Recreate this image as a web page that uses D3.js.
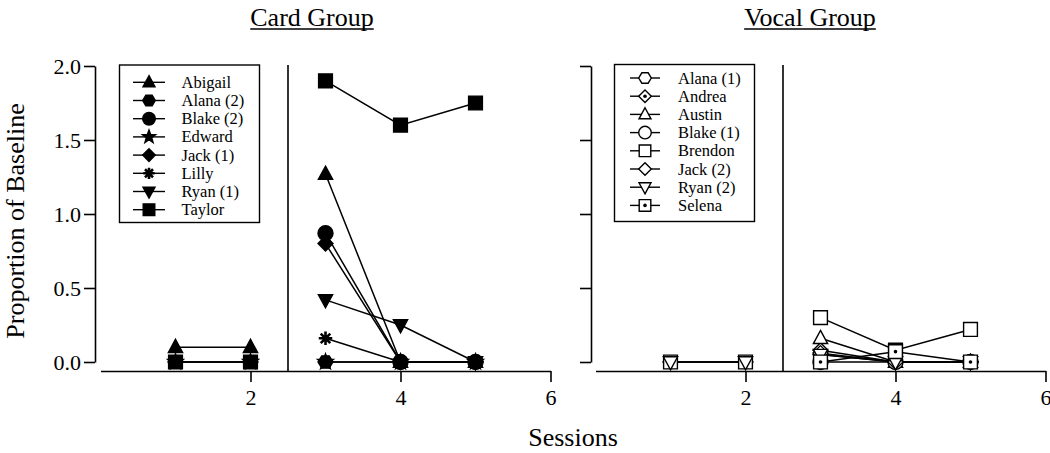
<!DOCTYPE html>
<html>
<head>
<meta charset="utf-8">
<script src="https://cdn.jsdelivr.net/npm/d3@7"></script>
<style>
  html, body { margin: 0; padding: 0; background: #fff; }
  svg { display: block; font-family: "Liberation Serif", "Times New Roman", serif; }
</style>
</head>
<body>
<script>
// ---------------- DATA ----------------
const sessions = [1, 2, 3, 4, 5];
const phaseChange = 2.5;
const xTicks = [2, 4, 6];
const yTicks = [0, 0.5, 1.0, 1.5, 2.0];
const panelTitles = ["Card Group", "Vocal Group"];
const yTitle = "Proportion of Baseline";
const xTitle = "Sessions";

// Card group
const cardNames = ["Abigail", "Alana (2)", "Blake (2)", "Edward", "Jack (1)", "Lilly", "Ryan (1)", "Taylor"];
const cardAbigail = [0.1, 0.1, 1.27, 0, 0];
const cardAlana2  = [0, 0, 0, 0, 0];
const cardBlake2  = [null, null, 0.87, 0, 0];
const cardEdward  = [0, 0, 0, 0, 0];
const cardJack1   = [null, null, 0.80, 0, 0];
const cardLilly   = [null, null, 0.16, 0, 0];
const cardRyan1   = [null, null, 0.42, 0.25, 0];
const cardTaylor  = [0, 0, 1.90, 1.60, 1.75];
const cardValues = [cardAbigail, cardAlana2, cardBlake2, cardEdward, cardJack1, cardLilly, cardRyan1, cardTaylor];

// Vocal group
const vocalNames = ["Alana (1)", "Andrea", "Austin", "Blake (1)", "Brendon", "Jack (2)", "Ryan (2)", "Selena"];
const vocalAlana1  = [0, 0, 0.05, 0, 0];
const vocalAndrea  = [null, null, 0.08, 0, 0];
const vocalAustin  = [null, null, 0.16, 0, 0];
const vocalBlake1  = [null, null, 0, 0, 0];
const vocalBrendon = [0, 0, 0.30, 0.08, 0.22];
const vocalJack2   = [null, null, 0.06, 0, 0];
const vocalRyan2   = [0, 0, 0.05, 0, 0];
const vocalSelena  = [null, null, 0, 0.07, 0];
const vocalValues = [vocalAlana1, vocalAndrea, vocalAustin, vocalBlake1, vocalBrendon, vocalJack2, vocalRyan2, vocalSelena];

// ---------------- STYLE ----------------
const cardShapes  = ["triUp", "hex", "circle", "star", "diamond", "asterisk", "triDown", "square"];
const vocalShapes = ["hex", "diamondDot", "triUp", "circle", "square", "diamond", "triDown", "squareDot"];
const FONT = '"Liberation Serif", "Times New Roman", serif';

function shapePath(type, r) {
  const p = [];
  switch (type) {
    case "triUp":
      return `M0,${-r * 1.05}L${r * 0.95},${r * 0.7}L${-r * 0.95},${r * 0.7}Z`;
    case "triDown":
      return `M0,${r * 1.05}L${r * 0.95},${-r * 0.7}L${-r * 0.95},${-r * 0.7}Z`;
    case "square":
    case "squareDot": {
      const s = r * 0.92;
      return `M${-s},${-s}H${s}V${s}H${-s}Z`;
    }
    case "circle":
      return `M${r},0A${r},${r} 0 1,1 ${-r},0A${r},${r} 0 1,1 ${r},0Z`;
    case "hex": {
      for (let i = 0; i < 6; i++) {
        const a = Math.PI / 3 * i;
        p.push([r * Math.cos(a), r * 0.95 * Math.sin(a)]);
      }
      return "M" + p.map(d => d.join(",")).join("L") + "Z";
    }
    case "diamond":
    case "diamondDot":
      return `M0,${-r}L${r},0L0,${r}L${-r},0Z`;
    case "star": {
      for (let i = 0; i < 10; i++) {
        const a = -Math.PI / 2 + Math.PI / 5 * i;
        const rr = i % 2 === 0 ? r * 1.1 : r * 0.45;
        p.push([rr * Math.cos(a), rr * Math.sin(a)]);
      }
      return "M" + p.map(d => d.join(",")).join("L") + "Z";
    }
    case "asterisk": {
      let s = "";
      for (let i = 0; i < 4; i++) {
        const a = Math.PI / 4 * i + Math.PI / 2;
        const dx = r * 0.9 * Math.cos(a), dy = r * 0.9 * Math.sin(a);
        s += `M${-dx},${-dy}L${dx},${dy}`;
      }
      return s;
    }
  }
  return "";
}

function drawMarker(g, type, filled, r, x, y) {
  const isAst = type === "asterisk";
  g.append("path")
    .attr("d", shapePath(type, r))
    .attr("transform", `translate(${x},${y})`)
    .attr("fill", isAst ? "none" : (filled ? "#000" : "#fff"))
    .attr("stroke", "#000")
    .attr("stroke-width", isAst ? 2.6 : 1.4)
    .attr("stroke-linejoin", "miter");
  if (type === "diamondDot" || type === "squareDot") {
    g.append("circle").attr("cx", x).attr("cy", y).attr("r", 1.8).attr("fill", "#000");
  }
}

// ---------------- LAYOUT ----------------
const W = 1050, H = 453;
const svg = d3.select("body").append("svg").attr("width", W).attr("height", H);

const panels = [
  { names: cardNames, values: cardValues, shapes: cardShapes, filled: true,
    xr: [100.5, 550.5], yAxisX: 95, labels: true, title: panelTitles[0], titleX: 312,
    legend: { x: 119.5, y: 65, w: 140, h: 157.5, sym: 149, lineL: 133, lineR: 165, text: 181.5, first: 82.3 } },
  { names: vocalNames, values: vocalValues, shapes: vocalShapes, filled: false,
    xr: [595.5, 1045.5], yAxisX: 591, labels: false, title: panelTitles[1], titleX: 810,
    legend: { x: 614.5, y: 64.5, w: 140, h: 157, sym: 645, lineL: 630, lineR: 660, text: 678, first: 78 } }
];

const y = d3.scaleLinear().domain([0, 2]).range([362, 66]);
const xAxisY = 371;

panels.forEach((P, pi) => {
  const x = d3.scaleLinear().domain([0, 6]).range(P.xr);
  const g = svg.append("g");

  // y axis
  const yAxis = d3.axisLeft(y).tickValues(yTicks).tickSize(11).tickSizeOuter(0).tickPadding(3)
    .tickFormat(P.labels ? d3.format(".1f") : () => "");
  const ya = g.append("g").attr("transform", `translate(${P.yAxisX},0)`).call(yAxis);

  // x axis
  const xAxis = d3.axisBottom(x).tickValues(xTicks).tickSize(11).tickSizeOuter(0).tickPadding(7)
    .tickFormat(d3.format("d"));
  const xa = g.append("g").attr("transform", `translate(0,${xAxisY})`).call(xAxis);

  [ya, xa].forEach(a => {
    a.selectAll("path.domain").attr("stroke", "#000").attr("stroke-width", 1.6);
    a.selectAll(".tick line").attr("stroke", "#000").attr("stroke-width", 1.6);
    a.selectAll(".tick text").attr("fill", "#000").style("font-family", FONT).style("font-size", "22px");
  });

  // phase change line
  g.append("line")
    .attr("x1", x(phaseChange)).attr("x2", x(phaseChange))
    .attr("y1", 65).attr("y2", xAxisY + 1)
    .attr("stroke", "#000").attr("stroke-width", 1.6);

  // series lines (within each phase)
  const line = d3.line().x(d => x(d.s)).y(d => y(d.v));
  P.values.forEach((vals) => {
    const pts = sessions.map((s, i) => ({ s, v: vals[i] })).filter(d => d.v !== null);
    const phases = [pts.filter(d => d.s < phaseChange), pts.filter(d => d.s > phaseChange)];
    phases.forEach(ph => {
      if (ph.length > 1) {
        g.append("path").attr("d", line(ph)).attr("fill", "none")
          .attr("stroke", "#000").attr("stroke-width", 1.5);
      }
    });
  });
  // markers
  P.values.forEach((vals, si) => {
    sessions.forEach((s, i) => {
      if (vals[i] === null) return;
      drawMarker(g, P.shapes[si], P.filled, 7.5, x(s), y(vals[i]));
    });
  });

  // legend
  const L = P.legend;
  g.append("rect").attr("x", L.x).attr("y", L.y).attr("width", L.w).attr("height", L.h)
    .attr("fill", "#fff").attr("stroke", "#000").attr("stroke-width", 1.4);
  const step = 18.2;
  P.names.forEach((name, i) => {
    const cy = L.first + i * step;
    g.append("line").attr("x1", L.lineL).attr("x2", L.lineR).attr("y1", cy).attr("y2", cy)
      .attr("stroke", "#000").attr("stroke-width", 1.4);
    drawMarker(g, P.shapes[i], P.filled, 6.3, L.sym, cy);
    g.append("text").attr("x", L.text).attr("y", cy + 5.5)
      .style("font-family", FONT).style("font-size", "16.5px").attr("fill", "#000")
      .text(name);
  });

  // panel title with underline
  const t = g.append("text").attr("x", P.titleX).attr("y", 26).attr("text-anchor", "middle")
    .style("font-family", FONT).style("font-size", "26px").attr("fill", "#000").text(P.title);
  const tw = t.node().getComputedTextLength();
  g.append("line").attr("x1", P.titleX - tw / 2).attr("x2", P.titleX + tw / 2)
    .attr("y1", 29).attr("y2", 29).attr("stroke", "#000").attr("stroke-width", 1.6);
});

// axis titles
svg.append("text")
  .attr("transform", "translate(24,221) rotate(-90)")
  .attr("text-anchor", "middle")
  .style("font-family", FONT).style("font-size", "26px").attr("fill", "#000")
  .text(yTitle);

svg.append("text")
  .attr("x", 573).attr("y", 446).attr("text-anchor", "middle")
  .style("font-family", FONT).style("font-size", "26px").attr("fill", "#000")
  .text(xTitle);
</script>
</body>
</html>
